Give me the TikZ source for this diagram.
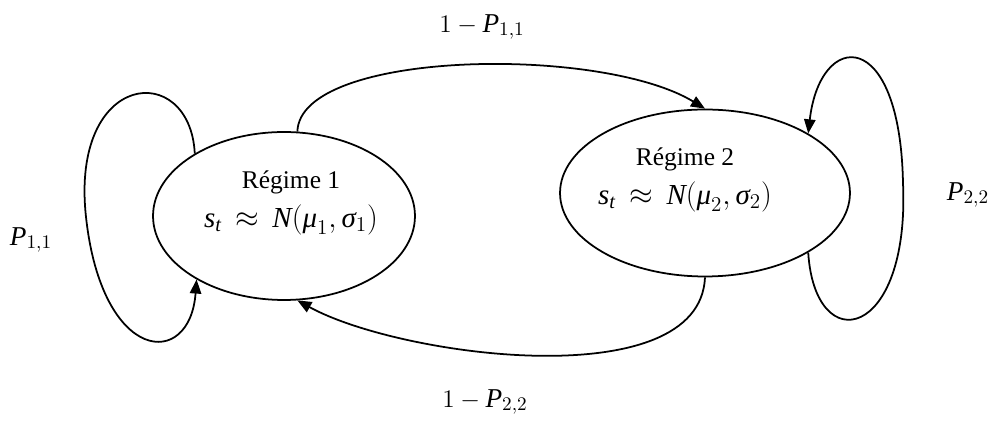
\documentclass[tikz,border=0pt]{standalone}
\usepackage{amsmath}
\usepackage{fontspec}
\setmainfont{Liberation Serif}
\usetikzlibrary{positioning,arrows.meta,shapes.geometric}
\newcommand{\vi}[1]{\text{\itshape #1}}

\begin{document}
\begin{tikzpicture}[x=0.02cm,y=-0.02cm,
  st/.style={draw,ellipse,line width=1pt,inner sep=0pt},
  txt/.style={align=center,font=\fontsize{14.5}{17}\selectfont},
  lbl/.style={font=\fontsize{15.5}{18}\selectfont},
  arr/.style={-{Triangle[length=8pt,width=6.5pt]},line width=1pt}
]
\useasboundingbox (0,0) rectangle (995,428);
\node[st,minimum width=5.24cm,minimum height=3.36cm] (reg1) at (284,216) {};
\node[st,minimum width=5.8cm,minimum height=3.34cm] (reg2) at (705,193) {};
\node[txt] (reg1txt) at (291,203) {R\'egime 1\\[5pt]{\fontsize{16.5}{19}\selectfont$\vi{s}_{\vi{t}}\,\approx\,\vi{N}(\vi{μ}_1,\vi{σ}_1)$}};
\node[txt] (reg2txt) at (685,180) {R\'egime 2\\[5pt]{\fontsize{16.5}{19}\selectfont$\vi{s}_{\vi{t}}\,\approx\,\vi{N}(\vi{μ}_2,\vi{σ}_2)$}};

\node[lbl] (p11) at (31,240) {$\vi{P}_{1,1}$};
\node[lbl] (p22) at (968,195) {$\vi{P}_{2,2}$};
\node[lbl] (q11) at (482,27) {$1-\vi{P}_{1,1}$};
\node[lbl] (q22) at (485,402) {$1-\vi{P}_{2,2}$};

\draw[arr] (reg1.81) .. controls (300,50) and (600,45) .. (reg2.90);
\draw[arr] (reg2.270) .. controls (700,397) and (400,357) .. (reg1.279);
\draw[arr] (reg1.145) .. controls (190,60) and (70,70) .. (86,217)
  .. controls (102,364) and (190,370) .. (reg1.216);
\draw[arr] (reg2.330) .. controls (815,360) and (910,340) .. (903,183)
  .. controls (900,25) and (820,30) .. (reg2.30);
\end{tikzpicture}
\end{document}
